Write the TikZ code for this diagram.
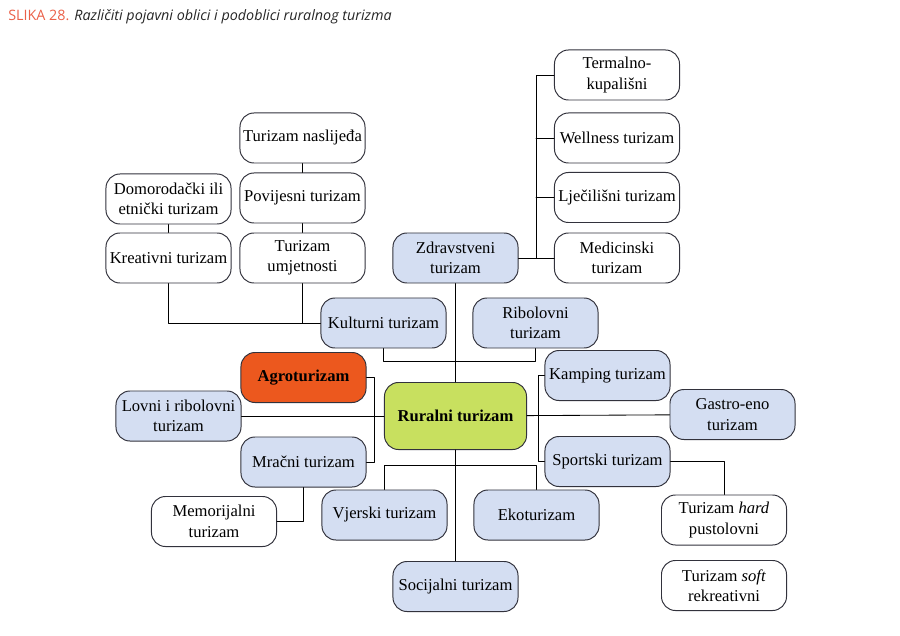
\documentclass[tikz,border=0pt]{standalone}
\usepackage{fontspec}
\setmainfont{Liberation Serif}
\newfontfamily\naslovfont{Open Sans}
\usetikzlibrary{calc}
\definecolor{plava}{RGB}{212,222,242}
\definecolor{narancasta}{RGB}{236,88,30}
\definecolor{zelena}{RGB}{200,224,95}
\definecolor{crvena}{RGB}{234,96,72}
\definecolor{obrub}{RGB}{50,50,60}
\begin{document}
\begin{tikzpicture}[
				x=0.025cm,y=-0.025cm,line join = round,line cap = round,inner sep = 0.5mm,
				font=\fontsize{11.8}{14.5}\selectfont,
				hcnbijeli/.style={rectangle,rounded corners=0.35cm,draw = obrub,line width=0.7pt,fill = white,align=center, minimum width=3.125cm, minimum height=1.25cm},
				hcnplavi/.style={hcnbijeli,fill = plava},
				hcnnar/.style={hcnbijeli,fill = narancasta,font=\fontsize{11.8}{14.5}\selectfont\bfseries},
				hcnzel/.style={hcnbijeli,fill = zelena,font=\fontsize{11.8}{14.5}\selectfont\bfseries, minimum width=3.55cm, minimum height=1.675cm},
				veza/.style={draw = black,line width=0.6pt}]
				\useasboundingbox (0,0) rectangle (900,636);
				\node[anchor=base west,inner sep=0pt,font=\naslovfont\fontsize{10.2}{12}\selectfont] (naslov) at (8,21) {\textcolor{crvena}{SLIKA 28.} \textcolor{black!85}{\itshape Različiti pojavni oblici i podoblici ruralnog turizma}};
				% kulturni ogranak
				\node at (302.5,138) (nodeNas) [hcnbijeli] {Turizam naslijeđa};
				\node at (302.5,198) (nodePov) [hcnbijeli] {Povijesni turizam};
				\node at (302.5,258) (nodeUmj) [hcnbijeli] {Turizam\\umjetnosti};
				\node at (168.5,199) (nodeDom) [hcnbijeli] {Domorodački ili\\etnički turizam};
				\node at (168.5,258) (nodeKre) [hcnbijeli] {Kreativni turizam};
				\node at (383.5,323) (nodeKul) [hcnplavi] {Kulturni turizam};
				% zdravstveni ogranak
				\node at (455.5,258) (nodeZdr) [hcnplavi] {Zdravstveni\\turizam};
				\node at (617,75) (nodeTer) [hcnbijeli] {Termalno-\\kupališni};
				\node at (617,138) (nodeWel) [hcnbijeli] {Wellness turizam};
				\node at (617,197.5) (nodeLje) [hcnbijeli] {Lječilišni turizam};
				\node at (617,258) (nodeMed) [hcnbijeli] {Medicinski\\turizam};
				\node at (535.5,323) (nodeRib) [hcnplavi] {Ribolovni\\turizam};
				% sredina
				\node at (455.5,416) (nodeRur) [hcnzel] {Ruralni turizam};
				\node at (303.5,377.5) (nodeAgr) [hcnnar] {Agroturizam};
				\node at (178.5,416) (nodeLov) [hcnplavi] {Lovni i ribolovni\\turizam};
				\node at (303.5,462) (nodeMra) [hcnplavi] {Mračni turizam};
				\node at (214,521.5) (nodeMem) [hcnbijeli] {Memorijalni\\turizam};
				\node at (384.5,515) (nodeVje) [hcnplavi] {Vjerski turizam};
				\node at (536.5,515) (nodeEko) [hcnplavi] {Ekoturizam};
				\node at (455.5,586.5) (nodeSoc) [hcnplavi] {Socijalni turizam};
				\node at (607.5,375.5) (nodeKam) [hcnplavi] {Kamping turizam};
				\node at (732.5,414.5) (nodeGas) [hcnplavi] {Gastro-eno\\turizam};
				\node at (607.5,461.5) (nodeSpo) [hcnplavi] {Sportski turizam};
				\node at (724,520) (nodeHar) [hcnbijeli] {Turizam \textit{hard}\\pustolovni};
				\node at (724,585.5) (nodeSof) [hcnbijeli] {Turizam \textit{soft}\\rekreativni};
				% tocke grananja
				\coordinate (kZ) at (536,0);
				\coordinate (kK) at (0,361);
				\coordinate (kA) at (374,0);
				\coordinate (kV) at (0,465);
				\coordinate (kS) at (538,0);
				\draw[veza] (nodeNas) -- (nodePov);
				\draw[veza] (nodePov) -- (nodeUmj);
				\draw[veza] (nodeDom) -- (nodeKre);
				\draw[veza] (nodeKre.south) |- (nodeKul.west);
				\draw[veza] (nodeUmj.south) -- (nodeUmj.south |- nodeKul.west);
				\draw[veza] (nodeTer.west) -- (nodeTer.west -| kZ) |- (nodeMed.west);
				\draw[veza] (nodeWel.west) -- (nodeWel.west -| kZ);
				\draw[veza] (nodeLje.west) -- (nodeLje.west -| kZ);
				\draw[veza] (nodeZdr) -- (nodeMed);
				\draw[veza] (nodeZdr) -- (nodeRur);
				\draw[veza] (nodeKul.south) -- (nodeKul.south |- kK) -| (nodeRib.south);
				\draw[veza] (nodeLov) -- (nodeRur);
				\draw[veza] (nodeAgr.east) -- (nodeAgr.east -| kA) |- (nodeMra.east);
				\draw[veza] (nodeMra.south) |- (nodeMem.east);
				\draw[veza] (nodeRur) -- (nodeSoc);
				\draw[veza] (nodeVje.north) -- (nodeVje.north |- kV) -| (nodeEko.north);
				\draw[veza] (nodeRur) -- (nodeGas);
				\draw[veza] (nodeKam.west) -- (nodeKam.west -| kS) |- (nodeSpo.west);
				\draw[veza] (nodeSpo.east) -| (nodeHar.north);
			\end{tikzpicture}
\end{document}
